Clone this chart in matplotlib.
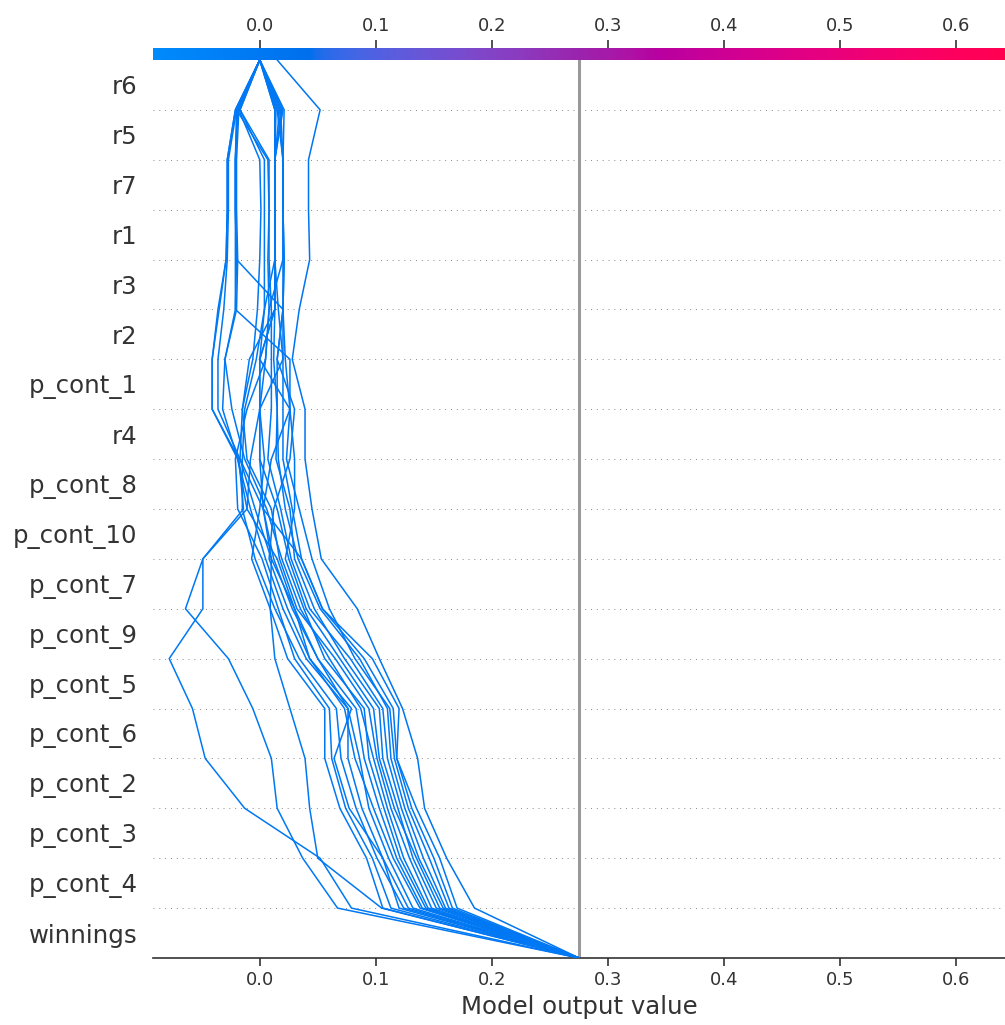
import numpy as np
import matplotlib
matplotlib.use("Agg")
import matplotlib.pyplot as plt
from matplotlib.colors import LinearSegmentedColormap, Normalize

# features from top to bottom
features = ["r6", "r5", "r7", "r1", "r3", "r2", "p_cont_1", "r4", "p_cont_8",
            "p_cont_10", "p_cont_7", "p_cont_9", "p_cont_5", "p_cont_6",
            "p_cont_2", "p_cont_3", "p_cont_4", "winnings"]

base_value = 0.275
x_ticks = [0.0, 0.1, 0.2, 0.3, 0.4, 0.5, 0.6]

# cumulative model output at each gridline, listed top (final output) -> bottom (base value)
obs_a = [0.0, -0.021, -0.028, -0.028, -0.029, -0.036, -0.041, -0.041, -0.018, -0.014, -0.049, -0.049, -0.078, -0.058, -0.047, -0.013, 0.052, 0.079, 0.275]
obs_b = [0.0, -0.020, -0.021, -0.021, -0.020, -0.021, -0.030, -0.032, -0.019, -0.011, -0.049, -0.064, -0.027, -0.006, 0.010, 0.015, 0.037, 0.067, 0.275]
obs_c = [0.0, 0.013, 0.013, 0.013, 0.013, 0.004, 0.0, 0.0, 0.0, 0.003, 0.010, 0.009, 0.013, 0.026, 0.039, 0.043, 0.050, 0.105, 0.275]
obs_r = [0.015, 0.052, 0.042, 0.042, 0.043, 0.034, 0.028, 0.039, 0.039, 0.045, 0.053, 0.084, 0.103, 0.123, 0.136, 0.142, 0.161, 0.185, 0.275]
obs_01 = [0.0, -0.021, -0.028, -0.028, -0.029, -0.035, -0.041, -0.041, -0.019, -0.008, 0.005, 0.020, 0.040, 0.076, 0.086, 0.094, 0.111, 0.132, 0.275]
obs_02 = [0.0, -0.020, -0.027, -0.027, -0.028, -0.031, -0.036, -0.036, -0.017, 0.003, 0.012, 0.028, 0.050, 0.083, 0.090, 0.103, 0.118, 0.140, 0.275]
obs_03 = [0.0, -0.019, -0.021, -0.021, -0.020, 0.020, 0.015, 0.015, 0.014, 0.026, 0.030, 0.047, 0.073, 0.103, 0.106, 0.119, 0.132, 0.152, 0.275]
obs_04 = [0.0, -0.019, -0.021, -0.021, -0.021, -0.021, 0.026, 0.026, 0.023, 0.034, 0.045, 0.060, 0.082, 0.112, 0.116, 0.128, 0.146, 0.163, 0.275]
obs_05 = [0.0, -0.018, -0.020, -0.020, -0.019, -0.020, -0.030, -0.024, -0.013, 0.006, 0.019, 0.035, 0.060, 0.087, 0.098, 0.110, 0.124, 0.145, 0.275]
obs_06 = [0.0, -0.018, 0.0, 0.001, 0.0, -0.002, -0.006, -0.015, -0.011, 0.010, 0.017, 0.032, 0.065, 0.094, 0.101, 0.113, 0.129, 0.148, 0.275]
obs_07 = [0.0, -0.017, 0.004, 0.004, 0.004, 0.004, -0.003, -0.013, -0.015, -0.015, -0.004, 0.013, 0.034, 0.066, 0.070, 0.083, 0.101, 0.124, 0.275]
obs_08 = [0.0, -0.017, 0.008, 0.008, 0.007, 0.008, 0.005, 0.0, 0.0, 0.015, 0.025, 0.040, 0.069, 0.098, 0.103, 0.116, 0.135, 0.155, 0.275]
obs_09 = [0.0, -0.020, 0.007, 0.008, 0.008, 0.010, 0.010, 0.010, 0.007, 0.018, 0.027, 0.043, 0.078, 0.106, 0.110, 0.122, 0.137, 0.158, 0.275]
obs_10 = [0.0, 0.013, 0.013, 0.013, 0.013, 0.013, 0.012, 0.015, 0.016, 0.022, 0.033, 0.052, 0.086, 0.110, 0.113, 0.125, 0.141, 0.160, 0.275]
obs_11 = [0.0, 0.014, 0.013, 0.013, 0.013, 0.016, 0.020, 0.020, 0.020, 0.028, 0.036, 0.054, 0.090, 0.115, 0.118, 0.131, 0.150, 0.166, 0.275]
obs_12 = [0.0, 0.015, 0.020, 0.020, 0.021, 0.020, 0.022, 0.026, 0.030, 0.030, 0.022, 0.038, 0.056, 0.090, 0.094, 0.107, 0.121, 0.143, 0.275]
obs_13 = [0.0, 0.016, 0.020, 0.020, 0.021, 0.020, 0.015, 0.030, 0.026, 0.012, 0.008, 0.024, 0.043, 0.073, 0.082, 0.098, 0.115, 0.138, 0.275]
obs_14 = [0.0, 0.017, 0.013, 0.013, 0.013, 0.013, 0.0, 0.0, 0.004, 0.0, -0.007, 0.009, 0.024, 0.056, 0.056, 0.069, 0.092, 0.106, 0.275]
obs_15 = [0.0, 0.018, 0.020, 0.020, 0.020, 0.008, 0.005, -0.011, -0.021, -0.019, 0.002, 0.016, 0.030, 0.060, 0.062, 0.074, 0.097, 0.113, 0.275]
obs_16 = [0.0, 0.019, 0.013, 0.013, 0.013, 0.013, -0.009, -0.015, -0.017, -0.004, 0.010, 0.030, 0.043, 0.079, 0.064, 0.077, 0.106, 0.128, 0.275]
obs_17 = [0.0, 0.021, 0.020, 0.020, 0.020, 0.020, 0.020, 0.0, -0.008, -0.011, 0.015, 0.030, 0.050, 0.076, 0.076, 0.088, 0.106, 0.120, 0.275]
obs_18 = [0.0, 0.020, 0.013, 0.013, 0.013, 0.013, 0.0, 0.026, 0.010, 0.003, 0.036, 0.054, 0.097, 0.120, 0.118, 0.135, 0.155, 0.170, 0.275]

paths = [obs_a, obs_b, obs_c, obs_r, obs_01, obs_02, obs_03, obs_04, obs_05, obs_06,
         obs_07, obs_08, obs_09, obs_10, obs_11, obs_12, obs_13, obs_14, obs_15,
         obs_16, obs_17, obs_18]


# shap style red/blue colormap built in LCh space
def lch2rgb(l, c, h):
    a = c * np.cos(h)
    b = c * np.sin(h)
    fy = (l + 16.0) / 116.0
    f = np.array([fy + a / 500.0, fy, fy - b / 200.0])
    xyz = np.where(f > 0.2068966, f ** 3, (f - 16.0 / 116.0) / 7.787)
    xyz = xyz * np.array([0.95047, 1.0, 1.08883])
    m = np.array([[3.24048134, -1.53715152, -0.49853633],
                  [-0.96925495, 1.87599, 0.04155593],
                  [0.05564664, -0.20404134, 1.05731107]])
    rgb = m @ xyz
    rgb = np.where(rgb > 0.0031308, 1.055 * np.abs(rgb) ** (1 / 2.4) - 0.055, 12.92 * rgb)
    return np.clip(rgb, 0, 1)


blue_lch = [54.0, 70.0, 4.6588]
red_lch = [54.0, 90.0, 0.35470565 + 2 * np.pi]
nsteps = 100
l_vals = list(np.linspace(blue_lch[0], 40.0, nsteps // 2)) + list(np.linspace(40.0, red_lch[0], nsteps // 2))
c_vals = np.linspace(blue_lch[1], red_lch[1], nsteps)
h_vals = np.linspace(blue_lch[2], red_lch[2], nsteps)
colors = [lch2rgb(l, c, h) for l, c, h in zip(l_vals, c_vals, h_vals)]
red_blue = LinearSegmentedColormap.from_list("red_blue", colors)

xlim = (-0.092, 0.642)
n = len(features)
axis_color = "#333333"

fig = plt.figure(figsize=(10.05, 10.25), dpi=100)
ax = fig.add_axes([0.1522, 0.0654, 0.8478, 0.8761])

norm = Normalize(vmin=xlim[0], vmax=xlim[1])
y_pos = np.arange(n, -1, -1)
for p in paths:
    ax.plot(p, y_pos, color=red_blue(norm(p[0])), linewidth=1.1, zorder=3)

for i in range(1, n):
    ax.axhline(i, color="#888888", lw=0.7, linestyle=(0, (1, 5)), zorder=0)
ax.axvline(base_value, color="#999999", lw=2.2, zorder=1)

ax.set_xlim(xlim)
ax.set_ylim(0, n)
ax.set_yticks(np.arange(n) + 0.5)
ax.set_yticklabels(features[::-1], fontsize=17.6)
ax.set_xticks(x_ticks)
ax.set_xticklabels(["%.1f" % t for t in x_ticks])
ax.tick_params(axis="x", labelsize=13, color=axis_color, labelcolor=axis_color, length=6, width=1.2)
ax.tick_params(axis="y", length=0, pad=11, labelcolor=axis_color)
for s in ["left", "right", "top"]:
    ax.spines[s].set_visible(False)
ax.spines["bottom"].set_color(axis_color)
ax.spines["bottom"].set_linewidth(1.2)
ax.set_xlabel("Model output value", fontsize=17.6, color=axis_color, labelpad=4)

# colour bar on top with its own tick labels
cax = fig.add_axes([0.1522, 0.9415, 0.8478, 0.0117])
grad = np.linspace(0, 1, 256).reshape(1, -1)
cax.imshow(grad, aspect="auto", cmap=red_blue, extent=[xlim[0], xlim[1], 0, 1])
cax.set_xlim(xlim)
cax.set_yticks([])
cax.xaxis.tick_top()
cax.set_xticks(x_ticks)
cax.set_xticklabels(["%.1f" % t for t in x_ticks])
cax.tick_params(axis="x", labelsize=13, color=axis_color, labelcolor=axis_color, length=6, width=1.2)
for s in cax.spines.values():
    s.set_visible(False)

plt.savefig("out.png", dpi=100)
